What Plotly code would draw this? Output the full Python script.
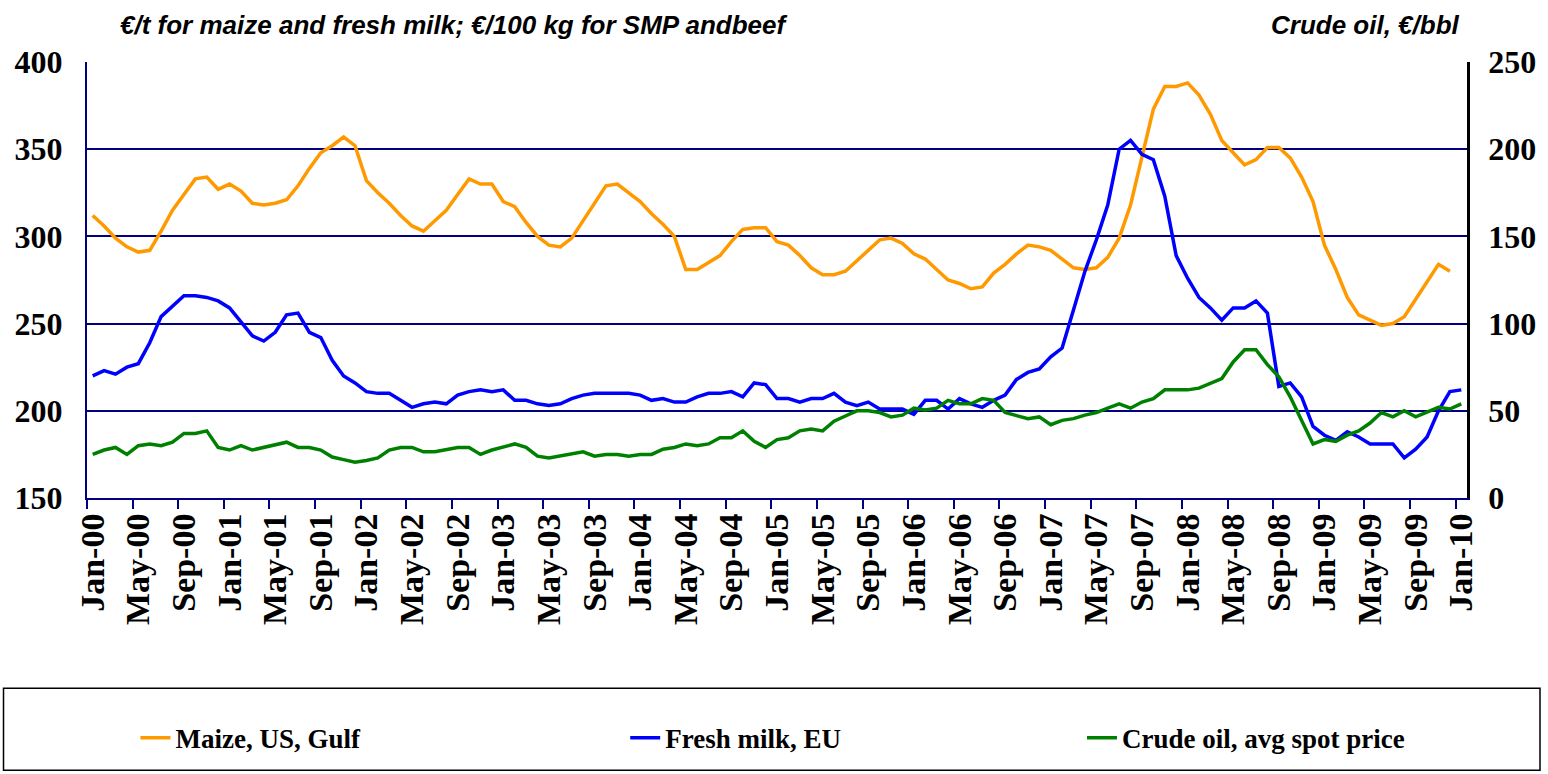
import plotly.graph_objects as go

# Month index 0 = Jan-00 ... 120 = Jan-10
tick_labels = ["Jan-00", "May-00", "Sep-00", "Jan-01", "May-01", "Sep-01", "Jan-02", "May-02",
               "Sep-02", "Jan-03", "May-03", "Sep-03", "Jan-04", "May-04", "Sep-04", "Jan-05",
               "May-05", "Sep-05", "Jan-06", "May-06", "Sep-06", "Jan-07", "May-07", "Sep-07",
               "Jan-08", "May-08", "Sep-08", "Jan-09", "May-09", "Sep-09", "Jan-10"]

maize = [312, 306, 299, 294, 291, 292, 303, 315, 324, 333, 334, 327, 330, 326, 319, 318,
         319, 321, 329, 339, 348, 352, 357, 352, 332, 325, 319, 312, 306, 303, 309, 315,
         324, 333, 330, 330, 320, 317, 308, 300, 295, 294, 299, 309, 319, 329, 330, 325,
         320, 313, 307, 300, 281, 281, 285, 289, 297, 304, 305, 305, 297, 295, 289, 282,
         278, 278, 280, 286, 292, 298, 299, 296, 290, 287, 281, 275, 273, 270, 271, 279,
         284, 290, 295, 294, 292, 287, 282, 281, 282, 288, 299, 318, 346, 373, 386, 386,
         388, 381, 370, 355, 348, 341, 344, 351, 351, 345, 334, 320, 295, 281, 265, 255,
         252, 249, 250, 254, 264, 274, 284, 280]

milk = [220, 223, 221, 225, 227, 239, 254, 260, 266, 266, 265, 263, 259, 251, 243, 240,
        245, 255, 256, 245, 242, 229, 220, 216, 211, 210, 210, 206, 202, 204, 205, 204,
        209, 211, 212, 211, 212, 206, 206, 204, 203, 204, 207, 209, 210, 210, 210, 210,
        209, 206, 207, 205, 205, 208, 210, 210, 211, 208, 216, 215, 207, 207, 205, 207,
        207, 210, 205, 203, 205, 201, 201, 201, 198, 206, 206, 201, 207, 204, 202, 206,
        209, 218, 222, 224, 231, 236, 258, 280, 298, 318, 350, 355, 347, 344, 323, 289,
        276, 265, 259, 252, 259, 259, 263, 256, 214, 216, 208, 191, 186, 183, 188, 185,
        181, 181, 181, 173, 178, 185, 200, 211, 212]

crude_oil = [25, 27.5, 29, 25, 30, 31, 30, 32, 37, 37, 38.5, 29, 27.5, 30, 27.5, 29,
             31, 32, 29, 29, 27.5, 23.5, 22, 20.5, 21.5, 23, 27.5, 29, 29, 26.5, 26.5, 27.5,
             29, 29, 25, 27.5, 29, 31, 29, 24, 23, 24, 25, 26.5, 24, 25, 25, 24,
             25, 25, 28, 29, 31, 30, 31, 34.5, 34.5, 38.5, 32.5, 29, 33.5, 34.5, 38.5, 39.5,
             38.5, 44, 47, 50, 50, 49, 46.5, 47.5, 51.5, 50.5, 51.5, 56, 54, 54, 57, 56,
             49, 47, 45.5, 46.5, 42, 44.5, 45.5, 47.5, 49, 51.5, 54, 51.5, 55, 57, 62, 62,
             62, 63, 65.5, 68.5, 78, 85, 85, 76.5, 69.5, 58, 44.5, 31, 33.5, 32.5, 36, 38.5,
             43, 49, 46.5, 50, 46.5, 49.5, 52, 51, 54]

NAVY = "#000080"
YTICKFONT = dict(family="Liberation Serif", size=32, color="black", weight="bold")
XTICKFONT = dict(family="Liberation Serif", size=34, color="black", weight="bold")

fig = go.Figure()
fig.add_trace(go.Scatter(x=list(range(len(maize))), y=maize, mode="lines",
                         name="Maize, US, Gulf", line=dict(color="#FF9900", width=3.5),
                         legend="legend"))
fig.add_trace(go.Scatter(x=list(range(len(milk))), y=milk, mode="lines",
                         name="Fresh milk, EU", line=dict(color="#0000FF", width=3.5),
                         legend="legend2"))
fig.add_trace(go.Scatter(x=list(range(len(crude_oil))), y=crude_oil, mode="lines",
                         name="Crude oil, avg spot price", line=dict(color="#008000", width=3.5),
                         xaxis="x2", yaxis="y2", legend="legend3"))

tick_idx = list(range(0, 121, 4))
legend_font = dict(family="Liberation Serif", size=27, color="black", weight="bold")
legend_common = dict(orientation="h", yanchor="middle", xanchor="left", y=-0.551,
                     font=legend_font, bgcolor="rgba(0,0,0,0)", borderwidth=0)

fig.update_layout(
    width=1548, height=774,
    margin=dict(l=87, r=81, t=62, b=276, autoexpand=False),
    paper_bgcolor="white", plot_bgcolor="white",
    xaxis=dict(range=[-0.5, 120.5], tickmode="array", tickvals=tick_idx, ticktext=tick_labels,
               tickangle=-90, ticks="", showgrid=False, zeroline=False, automargin=False,
               showline=True, linecolor=NAVY, linewidth=2, tickfont=XTICKFONT),
    xaxis2=dict(range=[-0.5, 120.5], overlaying="x", anchor="y2", tickmode="array",
                tickvals=[v - 0.5 for v in tick_idx], ticks="outside", ticklen=10,
                tickwidth=2, tickcolor=NAVY, showticklabels=False, showgrid=False,
                zeroline=False, showline=False, automargin=False),
    yaxis=dict(range=[150, 400], tickmode="linear", tick0=150, dtick=50,
               showgrid=True, gridcolor=NAVY, gridwidth=1.5, zeroline=False,
               showline=True, linecolor=NAVY, linewidth=2, ticks="", automargin=False,
               tickfont=YTICKFONT, ticklabelstandoff=16),
    yaxis2=dict(range=[0, 250], tickmode="linear", tick0=0, dtick=50, overlaying="y",
                side="right", anchor="x2", showgrid=False, zeroline=False, automargin=False,
                showline=True, linecolor="black", linewidth=2.5, ticks="",
                tickfont=YTICKFONT, ticklabelstandoff=12),
    legend=dict(x=0.0351, **legend_common),
    legend2=dict(x=0.390, **legend_common),
    legend3=dict(x=0.721, **legend_common),
    shapes=[dict(type="rect", xref="paper", yref="paper", x0=-0.0605, x1=1.0529,
                 y0=-0.6245, y1=-0.4365, line=dict(color="black", width=1.5),
                 fillcolor="rgba(0,0,0,0)")],
    annotations=[
        dict(text="<b><i>€/t for maize and fresh milk; €/100 kg for SMP andbeef</i></b>",
             xref="paper", yref="paper", x=0.0228, y=1.084, xanchor="left", yanchor="middle",
             showarrow=False, font=dict(family="Liberation Sans", size=26, color="black")),
        dict(text="<b><i>Crude oil, €/bbl</i></b>",
             xref="paper", yref="paper", x=0.9964, y=1.084, xanchor="right", yanchor="middle",
             showarrow=False, font=dict(family="Liberation Sans", size=26, color="black")),
    ],
    showlegend=True,
)

fig.write_html("out.html", config={"displayModeBar": False},
               post_script="document.body.style.margin='0px';document.body.style.padding='0px';")
